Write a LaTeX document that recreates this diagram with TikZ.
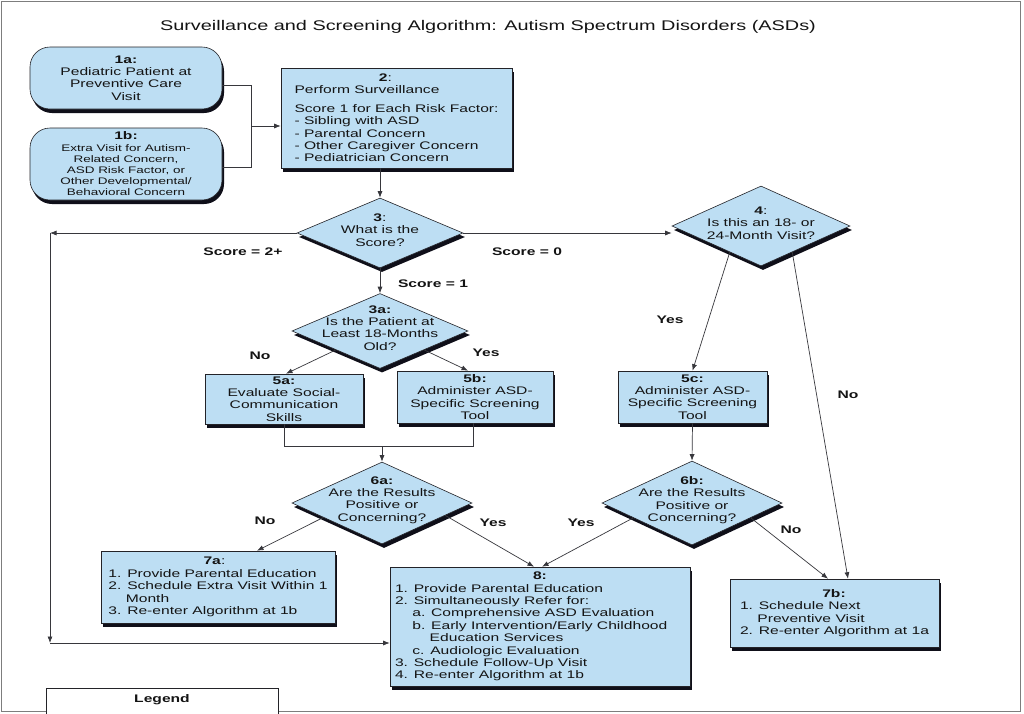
\documentclass[tikz,border=0pt]{standalone}
\usepackage{fontspec}
\setmainfont[FakeStretch=1.42]{Liberation Sans}
\usetikzlibrary{shapes.geometric,arrows.meta,shadows,calc}
\definecolor{boxfill}{RGB}{189,222,243}
\definecolor{linec}{RGB}{35,35,40}
\definecolor{conc}{RGB}{55,55,60}
\definecolor{shadowc}{RGB}{15,15,25}
\definecolor{framec}{RGB}{125,125,125}
\newcommand{\fbody}{\fontsize{11}{12.4}\selectfont}
\newcommand{\fsmall}{\fontsize{9.5}{11.2}\selectfont}
\begin{document}
\begin{tikzpicture}[x=1pt,y=-1pt,
  every node/.style={font=\fbody, text=black!92},
  shad/.style={general shadow={fill=shadowc, shadow xshift=2pt, shadow yshift=-4pt}},
  box/.style={draw=linec, fill=boxfill, line width=0.6pt, shad, align=center, inner xsep=3pt, inner ysep=0pt},
  rbox/.style={box, rounded corners=20pt},
  dia/.style={diamond, draw=linec, fill=boxfill, line width=0.6pt, shad, inner sep=0pt},
  dtext/.style={align=center, font=\fbody, yshift=3pt},
  conn/.style={draw=conc, line width=0.7pt},
  arr/.style={conn, -{Latex[length=6.5pt,width=5pt]}},
  lbl/.style={font=\fbody\bfseries},
]
\useasboundingbox (0,0) rectangle (1024,713);
\fill[white] (0,0) rectangle (1024,713);
\draw[framec, line width=1.2pt] (1.5,1.5) rectangle (1020.5,711.5);

\node[font=\fontsize{14}{16}\selectfont] (title) at (488,27) {Surveillance and Screening Algorithm: Autism Spectrum Disorders (ASDs)};

% start boxes
\node[rbox, minimum width=192pt, minimum height=62pt] (b1a) at (126,78) {\textbf{1a:}\\Pediatric Patient at\\Preventive Care\\Visit};
\node[rbox, minimum width=192pt, minimum height=72pt, font=\fsmall] (b1b) at (126,164) {{\fbody\textbf{1b:}}\\Extra Visit for Autism-\\Related Concern,\\ASD Risk Factor, or\\Other Developmental/\\Behavioral Concern};

\node[box, minimum width=231pt, minimum height=100pt, align=left] (b2) at (396.5,118) {\makebox[182pt]{\textbf{2}:}\\Perform Surveillance\\[6pt]Score 1 for Each Risk Factor:\\- Sibling with ASD\\- Parental Concern\\- Other Caregiver Concern\\- Pediatrician Concern};

% decisions
\node[dia, minimum width=166pt, minimum height=70pt, label={[dtext]center:{\textbf{3}:\\What is the\\Score?}}] (d3) at (380,233) {};
\node[dia, minimum width=178pt, minimum height=80pt, label={[dtext]center:{\textbf{4}:\\Is this an 18- or\\24-Month Visit?}}] (d4) at (761,226) {};
\node[dia, minimum width=176pt, minimum height=75pt, label={[dtext]center:{\textbf{3a:}\\Is the Patient at\\Least 18-Months\\Old?}}] (d3a) at (380,331) {};
\node[dia, minimum width=180pt, minimum height=82pt, label={[dtext]center:{\textbf{6a:}\\Are the Results\\Positive or\\Concerning?}}] (d6a) at (382,503) {};
\node[dia, minimum width=180pt, minimum height=84pt, label={[dtext]center:{\textbf{6b:}\\Are the Results\\Positive or\\Concerning?}}] (d6b) at (692,503) {};

% action boxes
\node[box, minimum width=158pt, minimum height=50pt] (b5a) at (284,399) {\textbf{5a:}\\Evaluate Social-\\Communication\\Skills};
\node[box, minimum width=156pt, minimum height=52pt] (b5b) at (475,397) {\textbf{5b:}\\Administer ASD-\\Specific Screening\\Tool};
\node[box, minimum width=149pt, minimum height=52pt] (b5c) at (692.5,397) {\textbf{5c:}\\Administer ASD-\\Specific Screening\\Tool};

\node[box, minimum width=234pt, minimum height=72pt, align=left] (b7a) at (218,587) {\makebox[212pt]{\textbf{7a}:}\\1. Provide Parental Education\\2. Schedule Extra Visit Within 1\\\phantom{2.\ }Month\\3. Re-enter Algorithm at 1b};
\node[box, minimum width=300pt, minimum height=119pt, align=left] (b8) at (540,626.5) {\makebox[290pt]{\textbf{8:}}\\1. Provide Parental Education\\2. Simultaneously Refer for:\\\phantom{1.\ }a. Comprehensive ASD Evaluation\\\phantom{1.\ }b. Early Intervention/Early Childhood\\\phantom{1.\ b.\ }Education Services\\\phantom{1.\ }c. Audiologic Evaluation\\3. Schedule Follow-Up Visit\\4. Re-enter Algorithm at 1b};
\node[box, minimum width=209pt, minimum height=68pt, align=left] (b7b) at (834.5,613) {\makebox[188pt]{\textbf{7b:}}\\1. Schedule Next\\\phantom{1.\ }Preventive Visit\\2. Re-enter Algorithm at 1a};

% legend
\node[draw=linec, line width=0.6pt, fill=white, minimum width=232pt, minimum height=50pt, anchor=north] (leg) at (162,688) {};
\node[lbl] (legt) at (162,700) {Legend};

% connectors
\coordinate (m12) at (251,126);
\draw[conn] ([yshift=-7pt]b1a.east) -| (m12);
\draw[conn] ([yshift=-3pt]b1b.east) -| (m12);
\draw[arr] (m12) -- (m12 -| b2.west);
\draw[arr] (b2.south -| d3.north) -- (d3.north);

\coordinate (cl) at (50,233);
\coordinate (cb) at (50,643);
\draw[arr] (d3.west) -- (cl);
\draw[arr] (cl) -- (cb);
\draw[arr] (cb) -- (cb -| b8.west);

\draw[arr] (d3.east) -- (d3.east -| d4.west);
\draw[arr] (d3.south) -- (d3a.north);
\draw[arr] (d3a.south west) -- ([xshift=2pt]b5a.north);
\draw[arr] (d3a.south east) -- ([xshift=-7pt]b5b.north);
\coordinate (j56) at (382,446);
\draw[conn] (b5a.south) |- (j56) -| ([xshift=-2pt]b5b.south);
\draw[arr] (j56) -- (d6a.north);
\draw[arr] (b5c.south) -- (d6b.north);
\draw[arr] ($(d4.south)!0.35!(d4.west)$) -- (b5c.north);
\draw[arr] ($(d4.south)!0.35!(d4.east)$) -- ([xshift=13.5pt]b7b.north);
\draw[arr] ($(d6a.west)!0.35!(d6a.south)$) -- ([xshift=39pt]b7a.north);
\draw[arr] ($(d6a.east)!0.3!(d6a.south)$) -- ([xshift=-6pt]b8.north);
\draw[arr] ($(d6b.west)!0.35!(d6b.south)$) -- ([xshift=2pt]b8.north);
\draw[arr] ($(d6b.east)!0.35!(d6b.south)$) -- ([xshift=-6.5pt]b7b.north);

% edge labels
\node[lbl] (ls2) at (243,252) {Score = 2+};
\node[lbl] (ls0) at (527,252) {Score = 0};
\node[lbl] (ls1) at (433,284) {Score = 1};
\node[lbl] (l3an) at (260,356) {No};
\node[lbl] (l3ay) at (486,353) {Yes};
\node[lbl] (l4y) at (670,320) {Yes};
\node[lbl] (l4n) at (848,395) {No};
\node[lbl] (l6an) at (265,521) {No};
\node[lbl] (l6ay) at (493,523) {Yes};
\node[lbl] (l6by) at (581,523) {Yes};
\node[lbl] (l6bn) at (791,530) {No};
\end{tikzpicture}
\end{document}
